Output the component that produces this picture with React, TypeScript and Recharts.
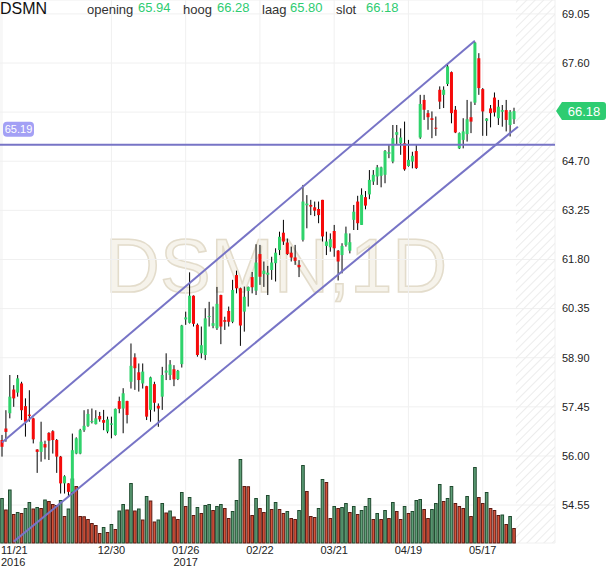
import React from 'react';
import {
  ComposedChart,
  Bar,
  XAxis,
  YAxis,
  CartesianGrid,
  ReferenceLine,
  ReferenceArea,
} from 'recharts';

// daily candles, DSMN, 21 Nov 2016 - 29 May 2017
const OPEN = [
  56.47, 56.81, 57.26, 57.96, 57.87, 58.14, 57.47, 57.22, 57.11, 56.19, 56.12, 56.35, 56.68, 56.73, 56.47, 55.98,
  55.19, 55.19, 54.94, 56.07, 56.07, 56.76, 56.89, 57.0, 56.94, 57.18, 57.06, 56.72, 56.92, 56.62, 57.62, 57.4,
  57.62, 58.19, 58.91, 58.47, 58.14, 58.06, 57.36, 58.12, 57.48, 57.75, 58.46, 58.39, 58.56, 58.27, 58.71, 60.03,
  59.93, 60.73, 59.87, 59.03, 58.98, 60.1, 59.84, 59.77, 60.75, 60.01, 60.28, 59.96, 61.34, 60.95, 60.26, 60.87,
  61.28, 60.88, 61.96, 61.37, 61.35, 61.49, 61.69, 62.08, 62.59, 62.3, 62.0, 61.86, 61.64, 62.38, 63.4, 63.41,
  63.34, 63.29, 63.56, 62.2, 62.16, 62.64, 62.06, 61.93, 62.23, 62.06, 62.97, 63.51, 62.82, 63.64, 63.72, 64.1,
  64.25, 64.27, 64.3, 64.92, 64.69, 65.48, 65.23, 65.23, 64.56, 64.69, 65.0, 65.4, 66.51, 66.12, 65.97, 65.69,
  66.81, 66.66, 66.98, 67.33, 66.22, 65.08, 65.33, 65.5, 66.0, 66.43, 67.74, 66.83, 65.89, 66.26, 66.58, 65.97,
  66.16, 66.21, 65.77, 65.94,
];
const HIGH = [
  56.62, 57.35, 58.39, 58.09, 58.39, 58.19, 57.7, 57.94, 57.13, 56.2, 57.01, 56.45, 56.7, 56.76, 56.5, 56.0,
  55.43, 55.2, 56.66, 56.55, 56.8, 57.35, 57.38, 57.4, 57.35, 57.3, 57.36, 57.16, 57.16, 57.4, 57.75, 58.0,
  57.63, 59.32, 59.03, 58.73, 58.73, 58.07, 58.34, 58.19, 57.55, 58.63, 59.03, 58.83, 58.68, 58.54, 59.87, 60.26,
  61.42, 60.74, 59.91, 59.82, 60.36, 60.55, 60.41, 60.99, 60.76, 60.11, 60.41, 61.2, 61.47, 60.97, 61.0, 61.0,
  61.43, 62.25, 62.23, 61.74, 61.61, 61.88, 62.13, 62.62, 62.97, 62.42, 62.18, 62.23, 61.78, 64.0, 63.7, 63.56,
  63.51, 63.51, 63.56, 62.62, 62.57, 62.82, 62.08, 62.28, 62.77, 62.57, 63.41, 63.68, 63.9, 63.82, 64.44, 64.44,
  64.59, 64.54, 65.03, 65.18, 65.77, 65.77, 65.67, 65.87, 65.33, 64.98, 65.18, 66.66, 66.66, 66.21, 66.17, 66.02,
  66.91, 66.91, 67.59, 67.35, 66.33, 65.55, 65.97, 66.51, 66.46, 68.22, 67.89, 66.86, 65.97, 66.36, 66.73, 66.51,
  66.36, 66.51, 66.21, 66.28,
];
const LOW = [
  55.98, 56.42, 57.11, 57.45, 57.75, 57.06, 56.57, 57.01, 56.37, 55.5, 55.83, 55.9, 55.88, 56.07, 55.5, 54.89,
  54.89, 54.79, 54.89, 56.05, 56.05, 56.71, 56.86, 56.96, 56.93, 57.01, 56.76, 56.67, 56.52, 56.6, 57.26, 56.67,
  56.96, 57.99, 57.95, 57.9, 57.99, 57.06, 57.01, 57.31, 56.86, 57.36, 58.24, 58.24, 58.06, 58.24, 58.61, 59.87,
  59.91, 59.82, 58.93, 58.88, 58.83, 59.82, 59.77, 59.72, 59.3, 59.72, 59.82, 59.92, 60.8, 59.25, 59.67, 60.41,
  60.8, 60.75, 61.05, 60.99, 60.75, 61.2, 61.15, 61.93, 62.23, 61.93, 61.74, 61.64, 61.28, 62.33, 62.72, 63.11,
  63.08, 62.87, 62.33, 61.93, 62.03, 61.88, 61.18, 61.39, 62.18, 61.98, 62.67, 62.67, 62.82, 63.28, 63.58, 64.0,
  64.0, 63.93, 64.05, 64.79, 64.64, 65.18, 64.89, 64.42, 64.54, 64.49, 64.47, 65.36, 65.92, 65.63, 65.38, 65.45,
  66.24, 66.27, 66.92, 65.82, 65.53, 65.06, 65.08, 65.28, 65.53, 66.36, 66.66, 65.45, 65.45, 65.7, 66.02, 65.77,
  65.72, 65.58, 65.43, 65.8,
];
const CLOSE = [
  56.27, 56.71, 57.75, 57.7, 58.29, 57.35, 57.01, 57.18, 56.49, 56.12, 56.42, 56.25, 56.45, 56.47, 55.98, 55.19,
  55.4, 54.94, 56.17, 56.52, 56.76, 56.89, 57.24, 57.03, 57.11, 57.08, 56.98, 57.08, 56.96, 57.39, 57.39, 57.85,
  57.21, 58.66, 58.59, 58.24, 58.49, 57.16, 58.32, 57.57, 57.4, 58.39, 58.52, 58.7, 58.26, 58.51, 59.85, 60.09,
  60.73, 59.9, 58.98, 59.27, 60.06, 60.13, 59.92, 60.49, 59.82, 59.96, 59.96, 60.9, 60.95, 59.85, 60.7, 60.99,
  60.98, 61.71, 61.29, 61.47, 61.41, 61.71, 62.0, 62.47, 62.33, 61.96, 61.86, 61.76, 61.57, 63.51, 63.45, 63.36,
  63.24, 63.11, 62.48, 62.33, 62.4, 62.13, 61.74, 62.2, 62.57, 62.31, 63.21, 62.87, 63.71, 63.39, 64.15, 64.3,
  64.52, 64.52, 65.0, 64.97, 65.38, 65.56, 65.4, 64.46, 64.74, 64.86, 64.5, 66.39, 66.22, 66.0, 65.92, 65.67,
  66.46, 66.81, 67.5, 66.12, 65.55, 65.53, 65.58, 65.94, 65.87, 68.2, 66.86, 66.17, 65.96, 66.12, 66.14, 66.31,
  66.21, 65.92, 66.16, 66.18,
];
// volume, thousands of shares
const VOLUME = [
  890, 660, 1060, 570, 610, 590, 690, 810, 680, 710, 690, 860, 830, 770, 750, 850,
  530, 680, 1280, 1130, 530, 525, 470, 390, 350, 190, 310, 210, 370, 270, 640, 770,
  660, 1190, 640, 680, 460, 930, 840, 420, 460, 790, 600, 640, 520, 470, 1010, 730,
  910, 550, 710, 590, 750, 770, 650, 730, 770, 690, 490, 630, 850, 1670, 1130, 1125,
  550, 890, 690, 610, 950, 670, 810, 670, 590, 630, 490, 470, 650, 1550, 1030, 530,
  510, 690, 1270, 1210, 490, 730, 690, 710, 790, 610, 730, 570, 650, 730, 890, 470,
  590, 470, 650, 490, 810, 630, 470, 730, 590, 630, 850, 870, 670, 490, 670, 790,
  1170, 830, 890, 1130, 790, 730, 690, 930, 530, 1510, 910, 790, 1010, 690, 650, 550,
  560, 370, 530, 290,
];

const START_DATE = '2016-11-21';
const HOLIDAYS = ['2016-12-26', '2017-04-14', '2017-04-17', '2017-05-01'];
const FUTURE_SLOTS = 10;

const PRICE_TICKS = [54.55, 56.0, 57.45, 58.9, 60.35, 61.8, 63.25, 64.7, 66.15, 67.6, 69.05];
const DATE_TICKS = [0, 28, 47, 66, 85, 104, 123];

const SUPPORT_LEVEL = 65.19;
const UPPER_CHANNEL = [
  { i: 0, p: 56.4 },
  { i: 121, p: 68.26 },
];
const LOWER_CHANNEL = [
  { i: 3, p: 53.47 },
  { i: 132, p: 65.72 },
];

const LAST = { open: 65.94, high: 66.28, low: 65.8, close: 66.18 };

const FONT = '"Liberation Sans", Arial, sans-serif';
const UP = '#2fd36b';
const DOWN = '#f50a0a';
const CHANNEL = '#7774c6';

function tradingDays(start: string, count: number, holidays: string[]) {
  const out: Date[] = [];
  const d = new Date(start + 'T12:00:00Z');
  while (out.length < count) {
    const day = d.getUTCDay();
    const iso = d.toISOString().slice(0, 10);
    if (day !== 0 && day !== 6 && !holidays.includes(iso)) out.push(new Date(d));
    d.setUTCDate(d.getUTCDate() + 1);
  }
  return out;
}

const DATES = tradingDays(START_DATE, OPEN.length + FUTURE_SLOTS, HOLIDAYS);

const data = DATES.map((date, i) => {
  const has = i < OPEN.length;
  return {
    i,
    o: has ? OPEN[i] : null,
    h: has ? HIGH[i] : null,
    l: has ? LOW[i] : null,
    c: has ? CLOSE[i] : null,
    range: has ? [LOW[i], HIGH[i]] : null,
    vol: has ? VOLUME[i] : null,
    volUp: has && i > 0 ? VOLUME[i] > VOLUME[i - 1] : true,
  };
});

const pad = (n: number) => String(n).padStart(2, '0');

function Candle(props: any) {
  const { x, y, width, height, payload } = props;
  if (!payload || payload.o == null) return null;
  const { o, h, l, c } = payload;
  const ratio = h - l > 0 ? height / (h - l) : 0;
  const cx = x + width / 2;
  const yo = y + (h - o) * ratio;
  const yc = y + (h - c) * ratio;
  const top = Math.min(yo, yc);
  const bh = Math.max(Math.abs(yo - yc), 1);
  return (
    <g>
      <line x1={cx} x2={cx} y1={y} y2={y + height} stroke="#000" strokeWidth={1} />
      <rect x={cx - 1.5} y={top} width={3} height={bh} fill={c >= o ? UP : DOWN} />
    </g>
  );
}

function VolumeBar(props: any) {
  const { x, y, width, height, payload } = props;
  if (!payload || payload.vol == null) return null;
  const cx = x + width / 2;
  const up = payload.volUp;
  return (
    <rect
      x={cx - 1.3}
      y={y}
      width={2.6}
      height={height}
      fill={up ? '#5f9f78' : '#d5533b'}
      stroke={up ? '#1f4a2e' : '#5a1a12'}
      strokeWidth={1}
    />
  );
}

function DateTick(props: any) {
  const { x, y, payload, index } = props;
  const i = payload.value;
  const d = DATES[i];
  if (!d) return null;
  const prev = index > 0 ? DATES[DATE_TICKS[index - 1]] : null;
  const showYear = !prev || prev.getUTCFullYear() !== d.getUTCFullYear();
  const label = `${pad(d.getUTCMonth() + 1)}/${pad(d.getUTCDate())}`;
  const first = i === 0;
  return (
    <g>
      <text
        x={first ? 1 : x}
        y={y + 3}
        textAnchor={first ? 'start' : 'middle'}
        fontSize={11}
        fill="#222"
        fontFamily={FONT}
      >
        {label}
      </text>
      {showYear && (
        <text
          x={first ? 1 : x}
          y={y + 15}
          textAnchor={first ? 'start' : 'middle'}
          fontSize={11}
          fill="#222"
          fontFamily={FONT}
        >
          {d.getUTCFullYear()}
        </text>
      )}
    </g>
  );
}

function SupportLabel({ viewBox }: any) {
  if (!viewBox) return null;
  const { x, y } = viewBox;
  return (
    <g>
      <rect x={x + 3} y={y - 23} width={31} height={15} rx={4} fill="#a3a0f5" />
      <text x={x + 18.5} y={y - 11.5} textAnchor="middle" fontSize={11} fill="#fff" fontFamily={FONT}>
        {SUPPORT_LEVEL.toFixed(2)}
      </text>
    </g>
  );
}

function LastPriceLabel({ viewBox }: any) {
  if (!viewBox) return null;
  const x0 = viewBox.x + viewBox.width + 1;
  const y = viewBox.y;
  return (
    <g>
      <path
        d={`M${x0},${y} L${x0 + 6},${y - 9} L${x0 + 47},${y - 9} Q${x0 + 50},${y - 9} ${x0 + 50},${y - 6} L${x0 + 50},${y + 6} Q${x0 + 50},${y + 9} ${x0 + 47},${y + 9} L${x0 + 6},${y + 9} Z`}
        fill="#2ecc71"
      />
      <text x={x0 + 28} y={y + 5} textAnchor="middle" fontSize={13} fill="#fff" fontFamily={FONT}>
        {LAST.close.toFixed(2)}
      </text>
    </g>
  );
}

const ohlc = [
  { name: 'opening', value: LAST.open, lx: 87, vx: 138 },
  { name: 'hoog', value: LAST.high, lx: 183, vx: 217 },
  { name: 'laag', value: LAST.low, lx: 262, vx: 290 },
  { name: 'slot', value: LAST.close, lx: 336, vx: 366 },
];

export default function App() {
  return (
    <div style={{ position: 'absolute', left: 0, top: 0, width: 610, height: 568, background: '#fff', fontFamily: FONT }}>
      <svg width={0} height={0} style={{ position: 'absolute' }}>
        <defs>
          <pattern id="hatch" width={6} height={6} patternUnits="userSpaceOnUse" patternTransform="rotate(45)">
            <line x1={0} y1={0} x2={0} y2={6} stroke="#ececec" strokeWidth={2} />
          </pattern>
        </defs>
      </svg>

      <div
        style={{
          position: 'absolute',
          left: 105,
          top: 228,
          fontSize: 76,
          lineHeight: 1,
          color: '#f6f3eb',
          WebkitTextStroke: '1.5px #e3dccb',
          whiteSpace: 'nowrap',
        }}
      >
        DSMN,1D
      </div>

      <div style={{ position: 'absolute', left: 0, top: 0 }}>
        <ComposedChart
          width={610}
          height={568}
          data={data}
          margin={{ top: 0, right: 0, bottom: 0, left: 0 }}
          barCategoryGap={0}
          style={{ fontFamily: FONT }}
        >
          <CartesianGrid xAxisId="main" yAxisId="price" stroke="#f0f0f0" />
          <XAxis
            xAxisId="main"
            dataKey="i"
            type="category"
            ticks={DATE_TICKS}
            interval={0}
            tick={<DateTick />}
            tickLine={false}
            axisLine={false}
            height={25}
          />
          <XAxis xAxisId="vol" dataKey="i" type="category" hide />
          <YAxis
            yAxisId="price"
            orientation="right"
            domain={[53.43, 69.46]}
            allowDataOverflow
            ticks={PRICE_TICKS}
            tickFormatter={(v: number) => (v === 66.15 ? '' : v.toFixed(2))}
            tick={{ fontSize: 11, fill: '#222' }}
            tickLine={false}
            axisLine={false}
            tickSize={0}
            tickMargin={7}
            width={55}
          />
          <YAxis yAxisId="vol" domain={[0, 10860]} hide />

          <ReferenceArea
            xAxisId="main"
            yAxisId="price"
            x1={OPEN.length}
            x2={OPEN.length + FUTURE_SLOTS - 1}
            fill="url(#hatch)"
            fillOpacity={1}
            stroke="none"
          />

          <Bar xAxisId="vol" yAxisId="vol" dataKey="vol" shape={<VolumeBar />} isAnimationActive={false} />
          <Bar xAxisId="main" yAxisId="price" dataKey="range" shape={<Candle />} isAnimationActive={false} />

          <ReferenceLine
            xAxisId="main"
            yAxisId="price"
            y={SUPPORT_LEVEL}
            stroke={CHANNEL}
            strokeWidth={2}
            label={<SupportLabel />}
          />
          <ReferenceLine
            xAxisId="main"
            yAxisId="price"
            segment={UPPER_CHANNEL.map((pt) => ({ x: pt.i, y: pt.p }))}
            stroke={CHANNEL}
            strokeWidth={2}
            ifOverflow="visible"
          />
          <ReferenceLine
            xAxisId="main"
            yAxisId="price"
            segment={LOWER_CHANNEL.map((pt) => ({ x: pt.i, y: pt.p }))}
            stroke={CHANNEL}
            strokeWidth={2}
            ifOverflow="visible"
          />
          <ReferenceLine
            xAxisId="main"
            yAxisId="price"
            y={LAST.close}
            stroke="none"
            label={<LastPriceLabel />}
          />
        </ComposedChart>
      </div>

      <div style={{ position: 'absolute', left: 0, top: 0, fontSize: 16, color: '#111' }}>DSMN</div>
      {ohlc.map((item) => (
        <React.Fragment key={item.name}>
          <div style={{ position: 'absolute', left: item.lx, top: 2, fontSize: 13, color: '#333' }}>{item.name}</div>
          <div style={{ position: 'absolute', left: item.vx, top: 0, fontSize: 13, color: '#2ecc71' }}>
            {item.value.toFixed(2)}
          </div>
        </React.Fragment>
      ))}
    </div>
  );
}
